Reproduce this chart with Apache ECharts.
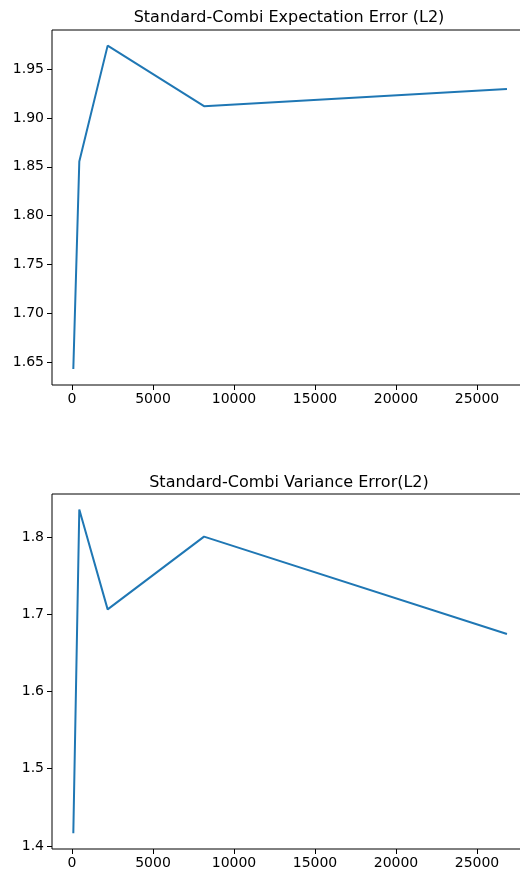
<!DOCTYPE html>
<html>
<head>
<meta charset="utf-8">
<script src="https://cdn.jsdelivr.net/npm/echarts@6/dist/echarts.min.js"></script>
<style>
  html, body { margin: 0; padding: 0; background: #fff; }
  #chart { width: 520px; height: 872px; }
</style>
</head>
<body>
<div id="chart"></div>
<script>
// data
const gridPoints = [81, 450, 2200, 8150, 26850]
const expectationError = [1.643, 1.8555, 1.974, 1.912, 1.9295]
const varianceError = [1.4165, 1.836, 1.7065, 1.8008, 1.6746]
const xTicks = [0, 5000, 10000, 15000, 20000, 25000]
const yTicksTop = [1.65, 1.70, 1.75, 1.80, 1.85, 1.90, 1.95]
const yTicksBottom = [1.4, 1.5, 1.6, 1.7, 1.8]
const titles = ['Standard-Combi Expectation Error (L2)', 'Standard-Combi Variance Error(L2)']

const font = 'DejaVu Sans'
const lineColor = '#1f77b4'

function xAxisOf(gridIndex) {
  return {
    type: 'value',
    gridIndex: gridIndex,
    min: -1235,
    max: 28210,
    splitLine: { show: false },
    axisLine: { show: false, onZero: false },
    axisTick: { show: true, customValues: xTicks, length: 5, lineStyle: { color: '#000', width: 1 } },
    axisLabel: {
      customValues: xTicks,
      color: '#000',
      fontFamily: font,
      fontSize: 14,
      margin: 7,
      formatter: (v) => String(v)
    }
  }
}

function yAxisOf(gridIndex, min, max, ticks, digits) {
  return {
    type: 'value',
    gridIndex: gridIndex,
    min: min,
    max: max,
    splitLine: { show: false },
    axisLine: { show: false, onZero: false },
    axisTick: { show: true, customValues: ticks, length: 5, lineStyle: { color: '#000', width: 1 } },
    axisLabel: {
      customValues: ticks,
      color: '#000',
      fontFamily: font,
      fontSize: 14,
      margin: 8,
      formatter: (v) => v.toFixed(digits)
    }
  }
}

function toPairs(ys) {
  return gridPoints.map((x, i) => [x, ys[i]])
}

const gridStyle = {
  left: 52,
  width: 477,
  height: 355,
  show: true,
  borderColor: '#000',
  borderWidth: 1,
  backgroundColor: 'transparent',
  outerBoundsMode: 'none',
  containLabel: false
}

const titleStyle = { fontFamily: font, fontSize: 16, fontWeight: 'normal', color: '#000' }

const option = {
  animation: false,
  backgroundColor: '#fff',
  title: [
    { text: titles[0], left: 289, top: 10, padding: 0, textAlign: 'center', textStyle: titleStyle },
    { text: titles[1], left: 289, top: 475, padding: 0, textAlign: 'center', textStyle: titleStyle }
  ],
  grid: [
    Object.assign({ top: 30 }, gridStyle),
    Object.assign({ top: 494 }, gridStyle)
  ],
  xAxis: [xAxisOf(0), xAxisOf(1)],
  yAxis: [
    yAxisOf(0, 1.6267, 1.990, yTicksTop, 2),
    yAxisOf(1, 1.396, 1.856, yTicksBottom, 1)
  ],
  series: [
    {
      type: 'line',
      xAxisIndex: 0,
      yAxisIndex: 0,
      data: toPairs(expectationError),
      showSymbol: false,
      lineStyle: { color: lineColor, width: 2 }
    },
    {
      type: 'line',
      xAxisIndex: 1,
      yAxisIndex: 1,
      data: toPairs(varianceError),
      showSymbol: false,
      lineStyle: { color: lineColor, width: 2 }
    }
  ]
}

const chart = echarts.init(document.getElementById('chart'))
chart.setOption(option)
</script>
</body>
</html>
